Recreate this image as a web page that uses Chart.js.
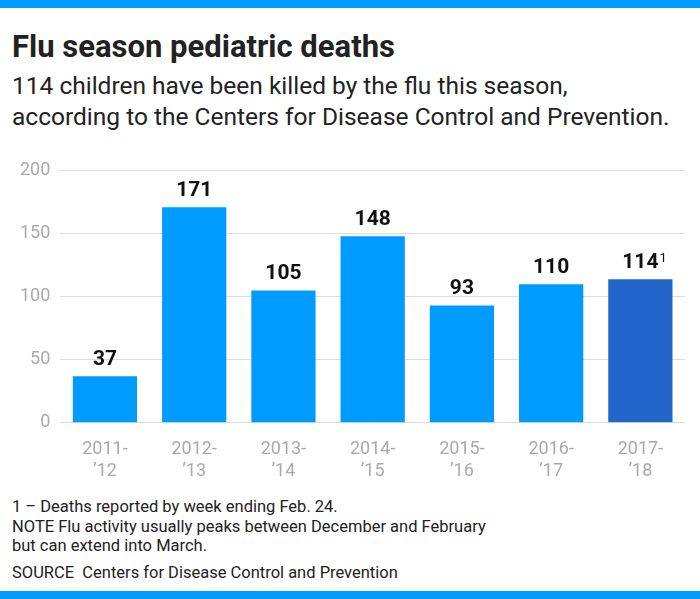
<!DOCTYPE html>
<html><head><meta charset="utf-8">
<script src="https://cdn.jsdelivr.net/npm/chart.js@4/dist/chart.umd.min.js"></script>
<style>
body{margin:0;width:700px;height:599px;position:relative;font-family:Roboto,"Open Sans",sans-serif;background:#fff;overflow:hidden}
.bar{position:absolute;left:0;width:700px;height:8px;background:#009bff}
#t{position:absolute;left:12px;top:28px;font-size:31px;font-weight:bold;color:#222}
#s{position:absolute;left:12px;top:70px;font-size:24.5px;line-height:31px;color:#222}
#f{position:absolute;left:12px;top:497px;font-size:16.5px;line-height:19.5px;color:#222}
#c{position:absolute;left:0;top:150px;width:700px;height:340px}
</style></head><body>
<div class="bar" style="top:0"></div>
<div class="bar" style="top:591px"></div>
<div id="t">Flu season pediatric deaths</div>
<div id="s">114 children have been killed by the flu this season,<br>according to the Centers for Disease Control and Prevention.</div>
<div id="f">1 – Deaths reported by week ending Feb. 24.<br>NOTE Flu activity usually peaks between December and February<br>but can extend into March.<div style="height:7px"></div>SOURCE&nbsp; Centers for Disease Control and Prevention</div>
<div id="c"><canvas id="cv" width="700" height="340"></canvas></div>
<script>
const categories=[["2011-","’12"],["2012-","’13"],["2013-","’14"],["2014-","’15"],["2015-","’16"],["2016-","’17"],["2017-","’18"]];
const deaths=[37,171,105,148,93,110,114];
const labels=["37","171","105","148","93","110","114"];
const colors=["#009bff","#009bff","#009bff","#009bff","#009bff","#009bff","#2266cc"];
const yTicks=[0,50,100,150,200];
const lbl={id:'lbl',afterDatasetsDraw(ch){const c=ch.ctx;const m=ch.getDatasetMeta(0);c.save();c.font='bold 21px Roboto';c.fillStyle='#111';c.textAlign='center';c.textBaseline='bottom';
m.data.forEach((b,i)=>{c.fillText(labels[i],b.x,b.y-6);if(i===6){const w=c.measureText(labels[i]).width;c.font='13px Roboto';c.textAlign='left';c.fillText('1',b.x+w/2+1,b.y-14);c.font='bold 21px Roboto';c.textAlign='center';}});c.restore();}};
new Chart(document.getElementById('cv'),{type:'bar',data:{labels:categories,datasets:[{data:deaths,backgroundColor:colors,barPercentage:0.72,categoryPercentage:1}]},
options:{responsive:false,animation:false,layout:{padding:{top:20,right:15,left:10}},plugins:{legend:{display:false},tooltip:{enabled:false}},
scales:{y:{min:0,max:200,afterBuildTicks(a){a.ticks=yTicks.map(v=>({value:v}));},grid:{color:'#ddd',drawTicks:false},border:{display:false},ticks:{color:'#aaa',font:{size:18,family:'Roboto'},padding:10}},
x:{grid:{display:false},border:{display:false},ticks:{color:'#aaa',font:{size:18,family:'Roboto'},padding:8}}}},plugins:[lbl]});
</script></body></html>
